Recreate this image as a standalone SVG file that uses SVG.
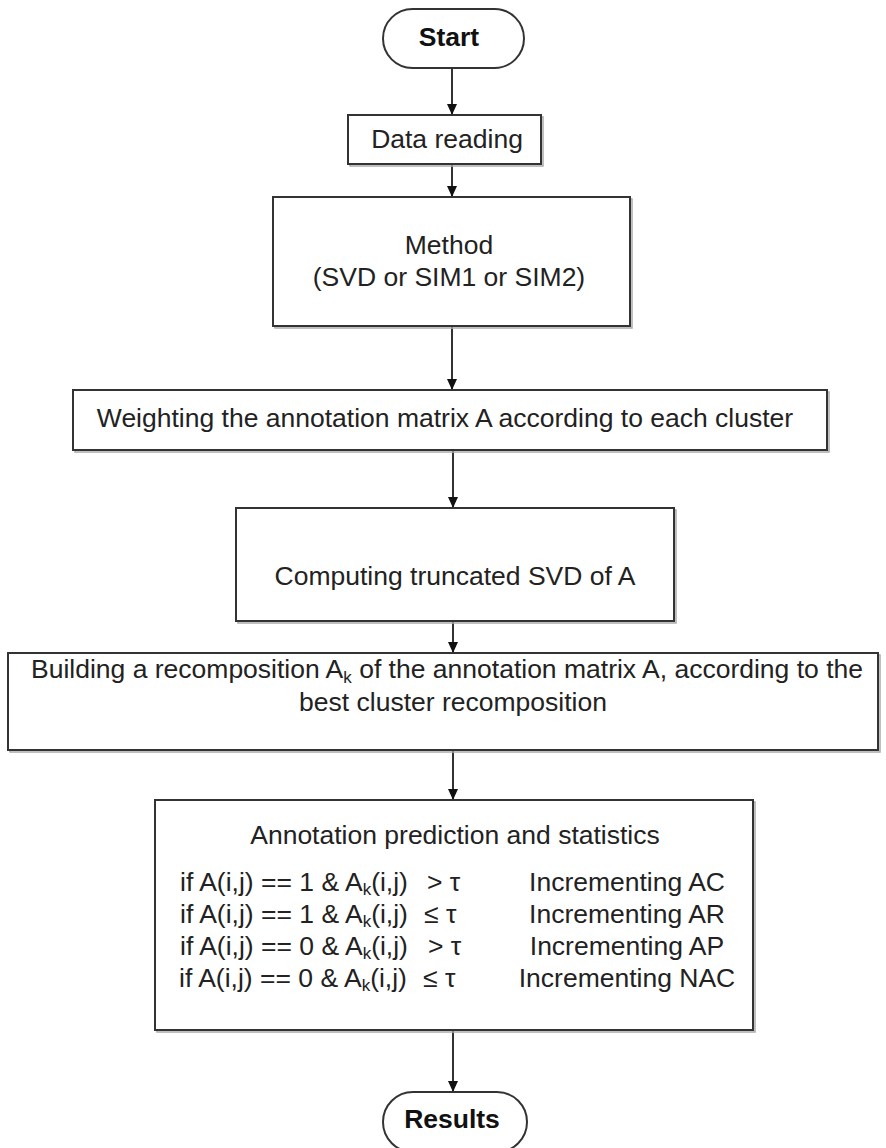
<svg xmlns="http://www.w3.org/2000/svg" width="886" height="1148" viewBox="0 0 886 1148">
<defs>
<marker id="arr" markerUnits="userSpaceOnUse" markerWidth="11" markerHeight="10" refX="11" refY="5" orient="auto">
<path d="M0,0 L11,5 L0,10 z" fill="#111"/>
</marker>
<style>
.box{fill:#fff;stroke:#333;stroke-width:2}
.sh{fill:none;stroke:#aaa;stroke-width:1.5}
.t{font-family:"Liberation Sans",Arial,sans-serif;font-size:26.5px;fill:#222}
.b{font-family:"Liberation Sans",Arial,sans-serif;font-size:26.5px;font-weight:bold;fill:#111}
.c{stroke:#333;stroke-width:2;fill:none}
.sub{font-size:17px}
</style>
</defs>
<rect width="886" height="1148" fill="#fff"/>

<g id="connectors">
<line class="c" x1="452" y1="68" x2="452" y2="115" marker-end="url(#arr)"/>
<line class="c" x1="452" y1="164" x2="452" y2="197" marker-end="url(#arr)"/>
<line class="c" x1="452" y1="326" x2="452" y2="390" marker-end="url(#arr)"/>
<line class="c" x1="453" y1="450" x2="453" y2="508" marker-end="url(#arr)"/>
<line class="c" x1="453" y1="621" x2="453" y2="653" marker-end="url(#arr)"/>
<line class="c" x1="453" y1="750" x2="453" y2="800" marker-end="url(#arr)"/>
<line class="c" x1="453" y1="1030" x2="453" y2="1092" marker-end="url(#arr)"/>
</g>

<g id="start">
<rect class="box" x="383" y="9" width="141" height="59" rx="29.5" ry="29.5"/>
<text class="b" x="449" y="46" text-anchor="middle">Start</text>
</g>

<g id="data-reading">
<rect class="sh" x="350" y="117" width="193" height="49"/>
<rect class="box" x="348" y="115" width="193" height="49"/>
<text class="t" x="447" y="148" text-anchor="middle">Data reading</text>
</g>

<g id="method">
<rect class="sh" x="275" y="199" width="357" height="129"/>
<rect class="box" x="273" y="197" width="357" height="129"/>
<text class="t" x="449" y="254" text-anchor="middle">Method</text>
<text class="t" x="449" y="286" text-anchor="middle">(SVD or SIM1 or SIM2)</text>
</g>

<g id="weighting">
<rect class="sh" x="75" y="392" width="754" height="60"/>
<rect class="box" x="73" y="390" width="754" height="60"/>
<text class="t" x="445" y="427" text-anchor="middle">Weighting the annotation matrix A according to each cluster</text>
</g>

<g id="computing">
<rect class="sh" x="238" y="510" width="438" height="113"/>
<rect class="box" x="236" y="508" width="438" height="113"/>
<text class="t" x="455" y="585" text-anchor="middle">Computing truncated SVD of A</text>
</g>

<g id="building">
<rect class="sh" x="10" y="655" width="870" height="97"/>
<rect class="box" x="8" y="653" width="870" height="97"/>
<text class="t" x="447" y="678" text-anchor="middle">Building a recomposition A<tspan class="sub" dy="5">k</tspan><tspan dy="-5"> of the annotation matrix A, according to the</tspan></text>
<text class="t" x="453" y="711" text-anchor="middle">best cluster recomposition</text>
</g>

<g id="annotation">
<rect class="sh" x="157" y="802" width="598" height="230"/>
<rect class="box" x="155" y="800" width="598" height="230"/>
<text class="t" x="455" y="844" text-anchor="middle">Annotation prediction and statistics</text>
<text class="t" x="180" y="891">if A(i,j) == 1 &amp; A<tspan class="sub" dy="4">k</tspan><tspan dy="-4">(i,j)</tspan><tspan x="427">&gt; τ</tspan></text>
<text class="t" x="180" y="923">if A(i,j) == 1 &amp; A<tspan class="sub" dy="4">k</tspan><tspan dy="-4">(i,j)</tspan><tspan x="424">≤ τ</tspan></text>
<text class="t" x="180" y="955">if A(i,j) == 0 &amp; A<tspan class="sub" dy="4">k</tspan><tspan dy="-4">(i,j)</tspan><tspan x="428">&gt; τ</tspan></text>
<text class="t" x="179" y="987">if A(i,j) == 0 &amp; A<tspan class="sub" dy="4">k</tspan><tspan dy="-4">(i,j)</tspan><tspan x="423">≤ τ</tspan></text>
<text class="t" x="627" y="891" text-anchor="middle">Incrementing AC</text>
<text class="t" x="627" y="923" text-anchor="middle">Incrementing AR</text>
<text class="t" x="627" y="955" text-anchor="middle">Incrementing AP</text>
<text class="t" x="627" y="987" text-anchor="middle">Incrementing NAC</text>
</g>

<g id="results">
<rect class="box" x="383" y="1092" width="144" height="60" rx="30" ry="30"/>
<text class="b" x="452" y="1128" text-anchor="middle">Results</text>
</g>
</svg>
